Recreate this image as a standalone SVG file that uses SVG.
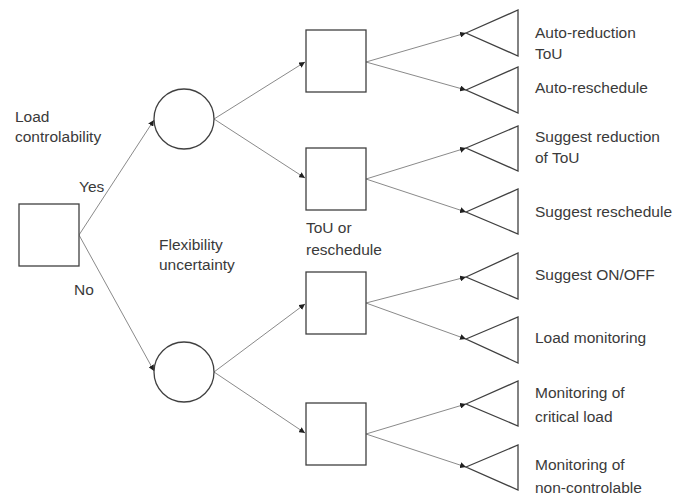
<svg xmlns="http://www.w3.org/2000/svg" width="673" height="500" viewBox="0 0 673 500">
<style>
.n{fill:#fff;stroke:#404040;stroke-width:1.3}
.c{stroke:#8a8a8a;stroke-width:1;fill:none;marker-end:url(#ah)}
text{font-family:"Liberation Sans",Arial,sans-serif;font-size:15.5px;fill:#3a3a3a}
</style>
<defs>
<marker id="ah" viewBox="0 0 10 10" refX="10" refY="5" markerWidth="6" markerHeight="6" markerUnits="userSpaceOnUse" orient="auto">
<path d="M0,0 L10,5 L0,10 z" fill="#202020"/>
</marker>
</defs>
<rect width="673" height="500" fill="#fff"/>
<g id="connectors">
<line class="c" x1="79" y1="235" x2="154" y2="120"/>
<line class="c" x1="79" y1="235" x2="154" y2="371"/>
<line class="c" x1="214" y1="119" x2="305" y2="62"/>
<line class="c" x1="214" y1="119" x2="305" y2="178"/>
<line class="c" x1="214" y1="372" x2="305" y2="304"/>
<line class="c" x1="214" y1="372" x2="305" y2="433"/>
<line class="c" x1="366" y1="62" x2="466" y2="33"/>
<line class="c" x1="366" y1="62" x2="466" y2="90"/>
<line class="c" x1="366" y1="179" x2="466" y2="148"/>
<line class="c" x1="366" y1="179" x2="466" y2="212"/>
<line class="c" x1="366" y1="303" x2="466" y2="277"/>
<line class="c" x1="366" y1="303" x2="466" y2="339"/>
<line class="c" x1="366" y1="434" x2="466" y2="404"/>
<line class="c" x1="366" y1="434" x2="466" y2="467"/>
</g>
<g id="root"><rect class="n" x="19" y="204" width="60" height="62"/></g>
<g id="chance1"><circle class="n" cx="184" cy="119" r="30"/></g>
<g id="chance2"><circle class="n" cx="184" cy="372" r="30"/></g>
<g id="dec1"><rect class="n" x="306" y="30" width="60" height="62"/></g>
<g id="dec2"><rect class="n" x="306" y="148" width="60" height="62"/></g>
<g id="dec3"><rect class="n" x="306" y="272" width="60" height="62"/></g>
<g id="dec4"><rect class="n" x="306" y="403" width="60" height="62"/></g>
<g id="end1"><polygon class="n" points="466,33 518,10 518,56"/></g>
<g id="end2"><polygon class="n" points="466,90 518,67 518,113"/></g>
<g id="end3"><polygon class="n" points="466,148 518,126 518,171"/></g>
<g id="end4"><polygon class="n" points="466,212 518,189 518,234"/></g>
<g id="end5"><polygon class="n" points="466,277 518,253 518,299"/></g>
<g id="end6"><polygon class="n" points="466,339 518,317 518,363"/></g>
<g id="end7"><polygon class="n" points="466,404 518,381 518,426"/></g>
<g id="end8"><polygon class="n" points="466,467 518,445 518,490"/></g>
<g id="labels">
<text x="15" y="122">Load</text>
<text x="15" y="142">controlability</text>
<text x="79" y="192">Yes</text>
<text x="74" y="295">No</text>
<text x="159" y="250">Flexibility</text>
<text x="159" y="270">uncertainty</text>
<text x="306" y="233">ToU or</text>
<text x="306" y="255">reschedule</text>
<text x="535" y="38">Auto-reduction</text>
<text x="535" y="59">ToU</text>
<text x="535" y="93">Auto-reschedule</text>
<text x="535" y="142">Suggest reduction</text>
<text x="535" y="163">of ToU</text>
<text x="535" y="217">Suggest reschedule</text>
<text x="535" y="280">Suggest ON/OFF</text>
<text x="535" y="343">Load monitoring</text>
<text x="535" y="398">Monitoring of</text>
<text x="535" y="422">critical load</text>
<text x="535" y="470">Monitoring of</text>
<text x="535" y="493">non-controlable</text>
</g>
</svg>
